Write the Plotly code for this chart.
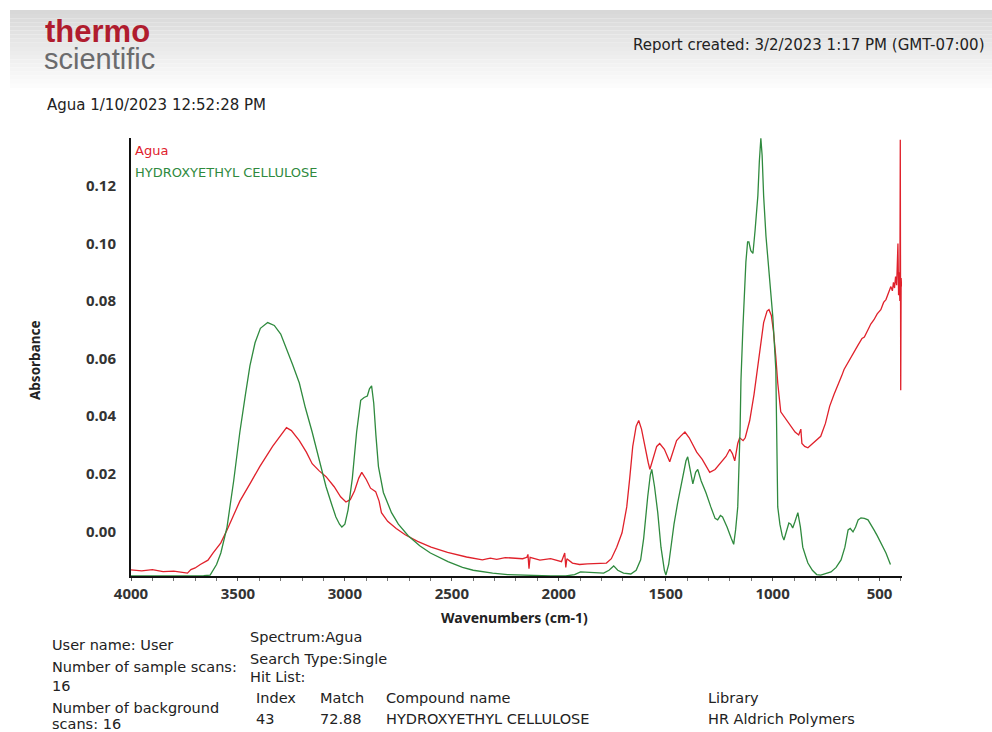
import plotly.graph_objects as go

# ---------------- data ----------------
agua_wn = [4000, 3950, 3900, 3850, 3800, 3760, 3736, 3720, 3700, 3676, 3640, 3616, 3580, 3551,
           3520, 3491, 3440, 3398, 3338, 3300, 3273, 3250, 3213, 3180, 3153, 3120, 3088, 3050,
           3020, 2995, 2975, 2955, 2935, 2921, 2900, 2880, 2856, 2840, 2829, 2800, 2760, 2718,
           2660, 2597, 2520, 2431, 2391, 2357, 2320, 2290, 2250, 2197, 2169, 2149, 2144, 2139,
           2134, 2088, 2038, 1987, 1972, 1967, 1962, 1936, 1903, 1866, 1835, 1805, 1777, 1754,
           1729, 1704, 1682, 1668, 1654, 1638, 1626, 1613, 1598, 1582, 1574, 1557, 1542, 1528,
           1506, 1481, 1466, 1449, 1431, 1410, 1390, 1370, 1355, 1329, 1294, 1269, 1247, 1218,
           1200, 1188, 1177, 1163, 1154, 1138, 1128, 1107, 1087, 1072, 1057, 1042, 1026, 1017,
           1006, 996, 985, 976, 962, 935, 915, 895, 878, 868, 863, 850, 835, 814, 794, 775, 753,
           733, 713, 695, 677, 666, 642, 622, 602, 582, 571, 554, 541, 526, 511, 494, 481, 470,
           460, 447, 440, 435, 430, 425, 420, 418, 414, 411, 408, 405, 403, 401, 399, 397]
agua_abs = [-0.0134, -0.0137, -0.0133, -0.0140, -0.0138, -0.0143, -0.0145, -0.0133, -0.0127,
            -0.0115, -0.0100, -0.0075, -0.0040, 0.0005, 0.0055, 0.0105, 0.0170, 0.0225, 0.0295,
            0.0335, 0.0360, 0.0350, 0.0315, 0.0275, 0.0235, 0.0210, 0.0190, 0.0155, 0.0120,
            0.0102, 0.0110, 0.0140, 0.0185, 0.0205, 0.0180, 0.0150, 0.0138, 0.0105, 0.0065,
            0.0035, 0.0010, -0.0012, -0.0035, -0.0055, -0.0073, -0.0089, -0.0095, -0.0099,
            -0.0093, -0.0097, -0.0091, -0.0092, -0.0095, -0.0090, -0.0080, -0.0130, -0.0090,
            -0.0100, -0.0095, -0.0105, -0.0075, -0.0125, -0.0095, -0.0110, -0.0115, -0.0113,
            -0.0112, -0.0113, -0.0110, -0.0095, -0.0055, -0.0005, 0.0085, 0.0185, 0.0295,
            0.0365, 0.0385, 0.0355, 0.0295, 0.0240, 0.0215, 0.0255, 0.0295, 0.0305, 0.0285,
            0.0242, 0.0275, 0.0315, 0.0330, 0.0345, 0.0325, 0.0295, 0.0275, 0.0250, 0.0205,
            0.0215, 0.0235, 0.0260, 0.0285, 0.0270, 0.0245, 0.0305, 0.0325, 0.0315, 0.0325,
            0.0385, 0.0475, 0.0565, 0.0655, 0.0725, 0.0765, 0.0770, 0.0750, 0.0695, 0.0605,
            0.0515, 0.0415, 0.0385, 0.0365, 0.0345, 0.0335, 0.0355, 0.0305, 0.0295, 0.0290,
            0.0305, 0.0320, 0.0330, 0.0375, 0.0435, 0.0475, 0.0505, 0.0540, 0.0562, 0.0595,
            0.0620, 0.0645, 0.0670, 0.0675, 0.0700, 0.0720, 0.0735, 0.0755, 0.0770, 0.0795,
            0.0805, 0.0825, 0.0850, 0.0835, 0.0865, 0.0845, 0.0885, 0.0855, 0.0920, 0.1000,
            0.0820, 0.0900, 0.0800, 0.1360, 0.0490, 0.0880, 0.0850]

hec_wn = [4000, 3800, 3700, 3660, 3630, 3600, 3580, 3551, 3520, 3491, 3465, 3444, 3420, 3395,
          3361, 3330, 3300, 3273, 3245, 3213, 3185, 3153, 3120, 3088, 3060, 3042, 3025, 3014,
          3000, 2985, 2965, 2945, 2926, 2910, 2895, 2885, 2875, 2865, 2855, 2843, 2820, 2800,
          2782, 2750, 2704, 2650, 2600, 2518, 2450, 2400, 2309, 2239, 2138, 2037, 1967, 1926,
          1898, 1845, 1790, 1765, 1743, 1724, 1697, 1663, 1638, 1617, 1603, 1584, 1572, 1565,
          1552, 1537, 1522, 1506, 1499, 1486, 1476, 1461, 1444, 1420, 1405, 1397, 1385, 1373,
          1360, 1350, 1334, 1312, 1289, 1269, 1257, 1244, 1234, 1213, 1193, 1182, 1173, 1163,
          1152, 1148, 1139, 1132, 1125, 1117, 1111, 1102, 1092, 1082, 1069, 1062, 1055, 1049,
          1042, 1031, 1017, 1006, 999, 985, 981, 976, 966, 955, 947, 935, 924, 915, 906, 895,
          882, 870, 859, 844, 835, 814, 794, 775, 753, 727, 703, 680, 662, 647, 637, 624, 612,
          600, 587, 571, 554, 541, 526, 511, 494, 470, 449]
hec_abs = [-0.0155, -0.0155, -0.0155, -0.0154, -0.0152, -0.0115, -0.0075, 0.0015, 0.0175,
           0.0345, 0.0475, 0.0575, 0.0655, 0.0705, 0.0725, 0.0715, 0.0685, 0.0635, 0.0580,
           0.0515, 0.0430, 0.0345, 0.0245, 0.0155, 0.0090, 0.0050, 0.0025, 0.0015, 0.0025,
           0.0075, 0.0185, 0.0345, 0.0455, 0.0465, 0.0470, 0.0495, 0.0505, 0.0445, 0.0335,
           0.0225, 0.0135, 0.0095, 0.0065, 0.0025, -0.0015, -0.0050, -0.0075, -0.0105, -0.0125,
           -0.0135, -0.0145, -0.0150, -0.0153, -0.0155, -0.0155, -0.0150, -0.0141, -0.0143,
           -0.0145, -0.0135, -0.0120, -0.0135, -0.0145, -0.0148, -0.0135, -0.0099, -0.0025,
           0.0120, 0.0195, 0.0215, 0.0155, 0.0065, -0.0055, -0.0135, -0.0152, -0.0115, -0.0055,
           0.0025, 0.0099, 0.0185, 0.0245, 0.0259, 0.0205, 0.0165, 0.0205, 0.0215, 0.0175,
           0.0135, 0.0085, 0.0045, 0.0040, 0.0055, 0.0050, 0.0015, -0.0025, -0.0045, 0.0005,
           0.0085, 0.0355, 0.0525, 0.0705, 0.0855, 0.0935, 0.1005, 0.1005, 0.0975, 0.0965,
           0.1045, 0.1165, 0.1285, 0.1365, 0.1305, 0.1165, 0.1025, 0.0905, 0.0825, 0.0745,
           0.0562, 0.0305, 0.0085, 0.0025, -0.0015, -0.0030, 0.0005, 0.0029, 0.0025, 0.0012,
           0.0035, 0.0065, 0.0015, -0.0055, -0.0090, -0.0110, -0.0135, -0.0150, -0.0152,
           -0.0148, -0.0141, -0.0125, -0.0099, -0.0055, 0.0005, 0.0010, -0.0002, 0.0015,
           0.0040, 0.0047, 0.0045, 0.0040, 0.0025, 0.0005, -0.0015, -0.0040, -0.0075, -0.0115]

x_ticks = [4000, 3500, 3000, 2500, 2000, 1500, 1000, 500]
y_ticks = [0.00, 0.02, 0.04, 0.06, 0.08, 0.10, 0.12]

RED = "#e0212b"
GREEN = "#2f8a3e"

W, H = 992, 732


def px(x):
    return x / W


def py(y):
    return 1 - y / H


fig = go.Figure()
fig.add_trace(go.Scatter(x=agua_wn, y=agua_abs, mode="lines", name="Agua",
                         line=dict(color=RED, width=1.3), cliponaxis=True))
fig.add_trace(go.Scatter(x=hec_wn, y=hec_abs, mode="lines", name="HYDROXYETHYL CELLULOSE",
                         line=dict(color=GREEN, width=1.3), cliponaxis=True))

shapes = []
# header gradient
n = 20
y0, y1 = 10, 92
for i in range(n):
    t = i / (n - 1)
    c = int(216 + (255 - 216) * t)
    shapes.append(dict(type="rect", xref="paper", yref="paper", layer="below",
                       x0=px(10), x1=1.0, y0=py(y0 + (y1 - y0) * (i + 1) / n),
                       y1=py(y0 + (y1 - y0) * i / n), line=dict(width=0),
                       fillcolor=f"rgb({c},{c},{c})"))

anns = []
TXT = "#222222"
anns.append(dict(text="<b>thermo</b>", x=px(43), y=py(31), xref="paper", yref="paper",
                 xanchor="left", yanchor="middle", showarrow=False, height=26,
                 font=dict(family="Liberation Sans", size=31, color="#b01c2e")))
anns.append(dict(text="scientific", x=px(42), y=py(59), xref="paper", yref="paper",
                 xanchor="left", yanchor="middle", showarrow=False, height=26,
                 font=dict(family="Liberation Sans", size=29, color="#6b6b6d")))
anns.append(dict(text="Report created: 3/2/2023 1:17 PM (GMT-07:00)", x=px(987), y=py(45),
                 xref="paper", yref="paper", xanchor="right", yanchor="middle", showarrow=False,
                 font=dict(family="DejaVu Sans", size=15, color=TXT)))
anns.append(dict(text="Agua 1/10/2023 12:52:28 PM", x=px(45), y=py(105),
                 xref="paper", yref="paper", xanchor="left", yanchor="middle", showarrow=False,
                 font=dict(family="DejaVu Sans", size=15, color=TXT)))
# legend texts
anns.append(dict(text="Agua", x=px(133), y=py(151), xref="paper", yref="paper",
                 xanchor="left", yanchor="middle", showarrow=False,
                 font=dict(family="DejaVu Sans", size=13, color=RED)))
anns.append(dict(text="HYDROXYETHYL CELLULOSE", x=px(133), y=py(172), xref="paper",
                 yref="paper", xanchor="left", yanchor="middle", showarrow=False,
                 font=dict(family="DejaVu Sans", size=13, color=GREEN)))
# axis titles
anns.append(dict(text="<b>Absorbance</b>", x=px(35), y=py(360), xref="paper", yref="paper",
                 xanchor="center", yanchor="middle", showarrow=False, textangle=-90,
                 font=dict(family="Noto Sans", size=13.5, color=TXT)))
anns.append(dict(text="<b>Wavenumbers (cm-1)</b>", x=px(514), y=py(617), xref="paper",
                 yref="paper", xanchor="center", yanchor="middle", showarrow=False,
                 font=dict(family="Noto Sans", size=14, color=TXT)))

# bottom info block
BF = dict(family="DejaVu Sans", size=14.5, color=TXT)
bottom = [
    ("User name: User", 50, 645), ("Number of sample scans:", 50, 667), ("16", 50, 686),
    ("Number of background", 50, 708), ("scans: 16", 50, 724),
    ("Spectrum:Agua", 248, 637), ("Search Type:Single", 248, 659), ("Hit List:", 248, 677),
    ("Index", 254, 698), ("Match", 318, 698), ("Compound name", 384, 698), ("Library", 706, 698),
    ("43", 254, 719), ("72.88", 318, 719), ("HYDROXYETHYL CELLULOSE", 384, 719),
    ("HR Aldrich Polymers", 706, 719),
]
for t, x, y in bottom:
    anns.append(dict(text=t, x=px(x), y=py(y), xref="paper", yref="paper", xanchor="left",
                     yanchor="middle", showarrow=False, font=BF))

TICKF = dict(family="Noto Sans", size=15, color="#333333", weight="bold")
fig.update_layout(
    width=W, height=H, margin=dict(l=0, r=0, t=0, b=0, autoexpand=False),
    paper_bgcolor="white", plot_bgcolor="white", showlegend=False,
    shapes=shapes, annotations=anns,
    xaxis=dict(domain=[px(131), px(902)], range=[4000, 395], tickvals=x_ticks,
               ticktext=[str(v) for v in x_ticks], showgrid=False, zeroline=False,
               automargin=False,
               showline=True, linecolor="#111111", linewidth=1.5, ticks="outside",
               ticklen=3, tickcolor="#555555", tickwidth=1,
               minor=dict(dtick=100, ticks="outside", ticklen=3, tickcolor="#777777"),
               tickfont=TICKF),
    yaxis=dict(domain=[py(576), py(138)], range=[-0.0155, 0.1366], tickvals=y_ticks,
               ticktext=[f"{v:.2f}" for v in y_ticks], showgrid=False, zeroline=False,
               automargin=False,
               showline=True, linecolor="#111111", linewidth=2, ticks="",
               ticklabelstandoff=10, tickfont=TICKF),
)

fig.write_html("out.html")
